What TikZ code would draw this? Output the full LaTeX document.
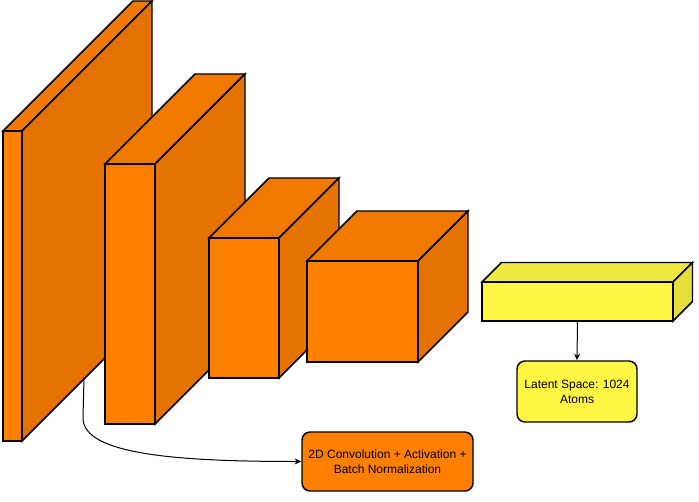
\documentclass[tikz,border=0pt]{standalone}
\usepackage{fontspec}
\setmainfont{Liberation Sans}
\usetikzlibrary{fit,arrows.meta}
\definecolor{ofront}{HTML}{FF8000}
\definecolor{otop}{HTML}{F27900}
\definecolor{oside}{HTML}{E57300}
\definecolor{yfront}{HTML}{FFF543}
\definecolor{ytop}{HTML}{F2E940}
\definecolor{yside}{HTML}{E6DD3B}
\tikzset{
  edge/.style={draw=black, line width=1.1pt, line join=miter},
  label box/.style={draw=black, line width=1.1pt, rounded corners=6pt, inner sep=0pt,
    align=center, font=\fontsize{9pt}{11.25pt}\selectfont},
  link/.style={draw=black, line width=0.75pt, -{Stealth[open, fill=white, length=5pt, width=4.5pt]}}
}
\newcommand\cubebox[9]{%
  \filldraw[edge, fill=#8] (#2,#3) -- (#2+#6,#3-#6) -- (#4+#6,#3-#6) -- (#4,#3) -- cycle;
  \filldraw[edge, fill=#9] (#4,#3) -- (#4+#6,#3-#6) -- (#4+#6,#5-#6) -- (#4,#5) -- cycle;
  \node[edge, fill=#7, fit={(#2,#3) (#4,#5)}, inner sep=0pt] (#1) {};
}
\begin{document}
\begin{tikzpicture}[x=0.75pt, y=-0.75pt]
\useasboundingbox (0,0) rectangle (699,502);
\cubebox{c1}{3}{131}{22}{441}{130}{ofront}{otop}{oside}
\cubebox{c2}{105}{164}{155}{424}{90}{ofront}{otop}{oside}
\cubebox{c3}{209}{238}{279}{378}{60}{ofront}{otop}{oside}
\cubebox{c4}{307}{261}{418}{362}{50}{ofront}{otop}{oside}
\cubebox{c5}{482}{282}{673}{321}{19.5}{yfront}{ytop}{yside}
\node[label box, fill=ofront, minimum width=128.25pt, minimum height=44.25pt] (conv) at (387.5,461.5)
  {2D Convolution + Activation +\\Batch Normalization};
\node[label box, fill=yfront, minimum width=90pt, minimum height=45.75pt] (latent) at (577,391.5)
  {Latent Space: 1024\\Atoms};
\coordinate (s1) at (84,378);
\draw[link] (s1) -- (83,418) .. controls (83,455) and (180,461.5) .. (conv.west);
\draw[link] (c5.south) -- (latent.north);
\end{tikzpicture}
\end{document}
